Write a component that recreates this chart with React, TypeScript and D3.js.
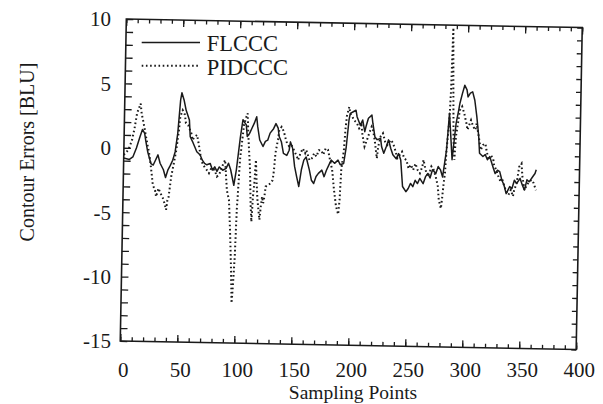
import React, { useEffect, useRef } from 'react';
import * as d3 from 'd3';

// [sampling point, contour error in BLU]
const flccc: [number, number][] = [
	[0, -0.8], [5, -0.9], [8, -0.7], [11, 0.0], [14, 0.9], [16, 1.45], [18, 1.15], [19, 0.6],
	[21, -0.3], [24, -1.2], [26, -1.3], [28, -0.9], [30, -0.5], [32, -1.15], [35, -1.65], [37, -2.25],
	[39, -1.65], [41, -1.3], [43, -0.9], [45, -0.25], [47, 1.2], [49, 3.8], [50, 4.35], [52, 3.8],
	[54, 3.0], [55, 2.75], [57, 2.25], [58, 0.95], [60, 0.6], [62, 0.2], [64, -0.2], [67, -0.45],
	[69, -0.85], [71, -1.1], [73, -1.2], [76, -1.1], [78, -1.6], [80, -1.35], [82, -1.7], [84, -1.35],
	[87, -1.6], [90, -1.45], [92, -1.05], [94, -1.55], [97, -2.75], [99, -1.55], [102, 1.0], [104, 2.35],
	[105, 2.2], [107, 1.95], [108, 1.05], [110, 1.3], [112, 1.7], [114, 2.1], [116, 2.6], [117, 1.85],
	[119, 0.8], [122, 0.3], [124, 0.7], [126, 0.8], [128, 1.35], [131, 1.7], [133, 2.1], [135, 1.75],
	[136, 1.1], [138, 0.7], [140, -0.2], [143, -0.35], [145, 0.05], [146, 0.7], [148, 0.2], [150, -1.2],
	[152, -2.0], [154, -2.75], [156, -1.45], [158, -0.7], [160, -0.45], [163, -1.45], [165, -2.25], [167, -2.5],
	[169, -1.95], [171, -1.7], [174, -1.45], [176, -1.95], [178, -1.45], [180, -1.05], [182, -0.65], [185, -0.9],
	[188, -0.65], [190, -1.0], [193, -0.9], [195, 0.4], [197, 2.5], [198, 3.0], [201, 3.15], [203, 3.25],
	[204, 2.75], [207, 2.1], [209, 2.5], [211, 1.6], [212, 2.0], [214, 2.65], [217, 2.9], [218, 2.25],
	[220, 1.2], [222, 1.0], [225, 1.1], [226, 0.45], [228, -0.05], [230, 0.45], [232, 1.0], [234, 0.35],
	[236, -0.15], [239, -0.45], [241, -0.05], [243, -0.55], [245, -2.6], [248, -3.0], [250, -2.75], [252, -2.35],
	[254, -2.6], [256, -2.1], [258, -2.35], [260, -1.95], [263, -2.35], [265, -1.8], [267, -1.55], [269, -1.9],
	[271, -1.25], [274, -1.55], [276, -1.0], [278, -1.25], [280, -1.8], [283, 0.3], [285, 3.15], [286, 2.0],
	[288, -0.45], [289, 0.55], [291, 2.4], [293, 3.4], [294, 3.95], [296, 4.7], [298, 5.35], [300, 5.0],
	[301, 4.45], [303, 4.75], [305, 4.85], [307, 4.2], [309, 2.95], [311, 1.4], [312, 0.1], [315, -0.15],
	[317, 0.0], [319, -0.4], [321, -0.15], [324, -0.95], [326, -1.45], [328, -1.2], [330, -1.3], [332, -1.95],
	[334, -2.35], [336, -3.0], [339, -2.45], [341, -2.6], [343, -1.95], [345, -2.2], [348, -1.8], [350, -2.3],
	[352, -2.7], [354, -1.9], [356, -2.05], [359, -1.65], [361, -1.4], [362, -1.1]
];

const pidccc: [number, number][] = [
	[0, -0.55], [4, -0.15], [7, 0.6], [9, 1.5], [11, 2.7], [14, 3.45], [15, 2.7], [17, 1.9],
	[19, 1.0], [21, 0.1], [22, -0.25], [24, -1.45], [26, -2.85], [28, -3.25], [29, -3.75], [31, -3.1],
	[33, -3.5], [35, -3.85], [36, -4.1], [38, -4.75], [39, -4.0], [40, -3.75], [42, -2.15], [44, -1.15],
	[46, -0.1], [48, 1.45], [49, 2.5], [51, 3.0], [53, 2.65], [54, 2.0], [56, 1.85], [59, 1.2],
	[60, 0.7], [62, 0.95], [64, 1.1], [66, 0.2], [68, -0.85], [70, -1.25], [73, -1.6], [75, -1.85],
	[77, -1.45], [80, -1.6], [82, -2.1], [84, -1.95], [87, -1.2], [89, -0.8], [91, -3.15], [93, -3.9],
	[94, -5.5], [95, -7.3], [96, -9.4], [97, -11.9], [98, -10.3], [99, -8.3], [100, -4.7], [101, -2.85],
	[102, -0.8], [104, 1.05], [105, 1.95], [107, 2.6], [108, 2.85], [109, 1.05], [111, -1.55], [112, -4.1],
	[113, -5.55], [114, -3.6], [115, -2.55], [116, -0.75], [117, -2.55], [118, -3.85], [120, -5.4], [121, -4.35],
	[122, -3.6], [123, -4.1], [124, -3.6], [125, -2.8], [127, -2.7], [129, -2.55], [131, -2.3], [132, -1.5],
	[133, -0.2], [135, 0.85], [136, 1.6], [138, 1.85], [140, 1.5], [142, 0.85], [143, 0.6], [145, 0.35],
	[147, 0.45], [149, 0.1], [152, -0.45], [153, -0.7], [155, -0.15], [157, 0.2], [159, -0.15], [160, 0.1],
	[163, -0.7], [165, -0.55], [167, -0.15], [169, -0.4], [171, 0.1], [173, 0.1], [175, -0.25], [177, 0.25],
	[179, 0.15], [181, -0.65], [183, -1.4], [185, -3.0], [187, -4.25], [189, -4.85], [190, -3.75], [191, -1.4],
	[193, 0.15], [194, 1.7], [195, 2.75], [197, 3.5], [198, 3.0], [200, 2.75], [201, 2.5], [203, 2.35],
	[204, 2.25], [206, 1.85], [208, 2.1], [209, 1.35], [211, 0.45], [213, 0.95], [215, 1.5], [217, 2.0],
	[218, 1.85], [220, 0.85], [222, -0.45], [223, 0.45], [225, 1.25], [227, 1.5], [229, 0.85], [231, 0.6],
	[232, 0.75], [234, 1.0], [236, 0.75], [238, 0.2], [240, -0.4], [242, -0.15], [244, 0.1], [246, -0.4],
	[248, -0.55], [250, -1.2], [252, -0.9], [254, -1.3], [256, -0.8], [258, -1.3], [260, -1.55], [262, -1.05],
	[263, -0.5], [265, -1.3], [267, -1.8], [269, -1.3], [270, -1.0], [272, -1.25], [274, -1.8], [276, -2.55],
	[277, -3.6], [279, -4.25], [280, -3.35], [281, -2.3], [282, -1.5], [283, 0.3], [285, 2.6], [286, 4.95],
	[287, 9.8], [288, 5.0], [289, 1.0], [290, -0.45], [291, 1.35], [293, 2.65], [294, 3.4], [296, 3.7],
	[298, 3.15], [300, 2.4], [301, 1.9], [303, 2.4], [304, 2.65], [306, 2.15], [308, 1.9], [309, 2.4],
	[311, 1.4], [313, 0.35], [315, 0.75], [317, 0.85], [318, 0.35], [320, -0.4], [322, -0.05], [324, -0.3],
	[325, -0.8], [327, -1.2], [329, -1.7], [331, -2.1], [332, -1.8], [334, -2.35], [336, -2.85], [338, -3.1],
	[340, -2.7], [342, -3.2], [343, -2.7], [345, -2.2], [347, -0.9], [349, -0.65], [350, -1.65], [352, -2.7],
	[354, -2.3], [356, -2.05], [358, -1.9], [360, -2.15], [362, -2.7]
];

const xTicks = [0, 50, 100, 150, 200, 250, 300, 350, 400];
const yTicks = [-15, -10, -5, 0, 5, 10];

const App = () => {
	const ref = useRef(null);

	useEffect(() => {
		const svg = d3.select(ref.current);
		svg.selectAll('*').remove();

		const font = 'Liberation Serif, Times New Roman, DejaVu Serif, serif';
		const ink = '#1a1a1a';
		const left = 123.25;
		const top = 23.25;
		const w = 456;
		const h = 322;
		// the scanned frame sits a little askew
		const tilt = 1.08;

		const xScale = d3.scaleLinear().domain([0, 400]).range([0, w]);
		const yScale = d3.scaleLinear().domain([-15, 10]).range([h, 0]);

		svg.append('rect').attr('width', 603).attr('height', 404).attr('fill', '#ffffff');

		const plot = svg
			.append('g')
			.attr('transform', `rotate(${tilt}, ${left + w / 2}, ${top + h / 2}) translate(${left}, ${top})`);

		const styleAxis = g => {
			g.select('.domain').remove();
			g.selectAll('line').attr('stroke', ink).attr('stroke-width', 1.3);
			g.selectAll('text').remove();
		};

		const minorX = d3.range(0, 401, 10);
		const minorY = d3.range(-15, 11, 1);

		plot.append('g').attr('transform', `translate(0, ${h})`)
			.call(d3.axisBottom(xScale).tickValues(minorX).tickSize(-4)).call(styleAxis);
		plot.append('g').attr('transform', `translate(0, ${h})`)
			.call(d3.axisBottom(xScale).tickValues(xTicks).tickSize(-7)).call(styleAxis);
		plot.append('g')
			.call(d3.axisTop(xScale).tickValues(minorX).tickSize(-4)).call(styleAxis);
		plot.append('g')
			.call(d3.axisTop(xScale).tickValues(xTicks).tickSize(-7)).call(styleAxis);
		plot.append('g')
			.call(d3.axisLeft(yScale).tickValues(minorY).tickSize(-7)).call(styleAxis);
		plot.append('g').attr('transform', `translate(${w}, 0)`)
			.call(d3.axisRight(yScale).tickValues(minorY).tickSize(-5)).call(styleAxis);

		plot.append('rect')
			.attr('width', w)
			.attr('height', h)
			.attr('fill', 'none')
			.attr('stroke', ink)
			.attr('stroke-width', 1.6);

		const line = d3.line().x(d => xScale(d[0])).y(d => yScale(d[1]));

		plot.append('path')
			.datum(pidccc)
			.attr('d', line)
			.attr('fill', 'none')
			.attr('stroke', ink)
			.attr('stroke-width', 2)
			.attr('stroke-dasharray', '1.6 2.6');

		plot.append('path')
			.datum(flccc)
			.attr('d', line)
			.attr('fill', 'none')
			.attr('stroke', ink)
			.attr('stroke-width', 1.5)
			.attr('stroke-linejoin', 'round');

		// tick labels (typed upright, not tilted with the frame)
		svg.append('g')
			.selectAll('text')
			.data(yTicks)
			.enter()
			.append('text')
			.attr('x', 111)
			.attr('y', d => top + yScale(d) - 4.3)
			.attr('dy', '0.35em')
			.attr('text-anchor', 'end')
			.attr('font-family', font)
			.attr('font-size', 21)
			.attr('fill', ink)
			.text(d => `${d}`);

		svg.append('g')
			.selectAll('text')
			.data(xTicks)
			.enter()
			.append('text')
			.attr('x', d => left + xScale(d))
			.attr('y', 377)
			.attr('text-anchor', 'middle')
			.attr('font-family', font)
			.attr('font-size', 21)
			.attr('fill', ink)
			.text(d => `${d}`);

		svg.append('text')
			.attr('x', 353)
			.attr('y', 399)
			.attr('text-anchor', 'middle')
			.attr('font-family', font)
			.attr('font-size', 19.5)
			.attr('fill', ink)
			.text('Sampling Points');

		svg.append('text')
			.attr('transform', 'translate(34, 152) rotate(-90)')
			.attr('text-anchor', 'middle')
			.attr('font-family', font)
			.attr('font-size', 20)
			.attr('fill', ink)
			.text('Contour Errors [BLU]');

		// legend
		const legend = svg.append('g');
		legend.append('line')
			.attr('x1', 141.7).attr('x2', 200).attr('y1', 42.5).attr('y2', 42.5)
			.attr('stroke', ink).attr('stroke-width', 1.5);
		legend.append('line')
			.attr('x1', 141.7).attr('x2', 200).attr('y1', 65.7).attr('y2', 65.7)
			.attr('stroke', ink).attr('stroke-width', 2).attr('stroke-dasharray', '1.6 2.6');
		legend.append('text')
			.attr('x', 206.7).attr('y', 51)
			.attr('font-family', font).attr('font-size', 22.5).attr('fill', ink)
			.text('FLCCC');
		legend.append('text')
			.attr('x', 206.7).attr('y', 75)
			.attr('font-family', font).attr('font-size', 22.5).attr('fill', ink)
			.text('PIDCCC');
	}, []);

	return (
		<svg
			ref={ref}
			width={603}
			height={404}
			style={{ position: 'absolute', left: 0, top: 0, display: 'block' }}
		/>
	);
};

export default App;
